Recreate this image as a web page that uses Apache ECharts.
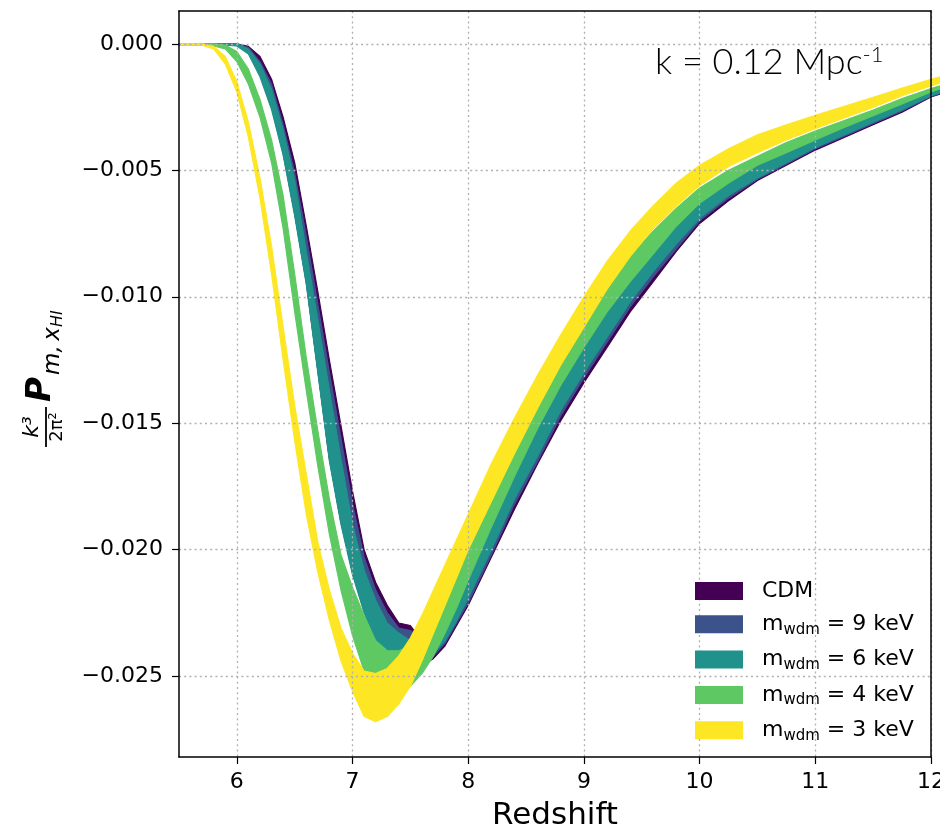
<!DOCTYPE html>
<html><head><meta charset="utf-8">
<script src="https://cdn.jsdelivr.net/npm/echarts@6/dist/echarts.min.js"></script>
<style>html,body{margin:0;padding:0;background:#fff}#c{width:940px;height:830px}</style>
</head><body><div id="c"></div>
<script>
// redshift grid
const Z = [5.5, 5.7, 5.8, 5.9, 6.0, 6.1, 6.2, 6.3, 6.4, 6.5, 6.6, 6.7, 6.8, 6.9, 7.0, 7.1, 7.2, 7.3, 7.4, 7.5, 7.6, 7.7, 7.8, 7.9, 8.0, 8.2, 8.4, 8.6, 8.8, 9.0, 9.2, 9.4, 9.6, 9.8, 10.0, 10.25, 10.5, 10.75, 11.0, 11.25, 11.5, 11.75, 12.0, 12.1];

const CDM_HI = [0, 0, 0, 0, 0, -0.0001, -0.0005, -0.0014, -0.0029, -0.0047, -0.0072, -0.0098, -0.0125, -0.0151, -0.0177, -0.0200, -0.0213, -0.0222, -0.0229, -0.0230, -0.0236, -0.0227, -0.0217, -0.0206, -0.0196, -0.0178, -0.0159, -0.0141, -0.0124, -0.0108, -0.0094, -0.0085, -0.0075, -0.0066, -0.0058, -0.0051, -0.00455, -0.0040, -0.00355, -0.0031, -0.0027, -0.0023, -0.0018, -0.0017];
const CDM_LO = [0, 0, 0, 0, 0, -0.0003, -0.0012, -0.0025, -0.0043, -0.0067, -0.0094, -0.0129, -0.0164, -0.0189, -0.0209, -0.0224, -0.0235, -0.0241, -0.0244, -0.0246, -0.0246, -0.0243, -0.0238, -0.0230, -0.0222, -0.0203, -0.0184, -0.0166, -0.0149, -0.0134, -0.0120, -0.0106, -0.0094, -0.0082, -0.0071, -0.0062, -0.0054, -0.0048, -0.0042, -0.0037, -0.0032, -0.0027, -0.0021, -0.00195];

const KEV9_HI = [0, 0, 0, 0, 0, -0.00015, -0.0007, -0.0016, -0.0032, -0.0051, -0.0076, -0.0103, -0.0130, -0.0156, -0.0182, -0.0203, -0.0216, -0.0225, -0.0231, -0.0232, -0.0236, -0.0227, -0.0217, -0.0206, -0.0196, -0.0178, -0.0159, -0.0141, -0.0124, -0.0108, -0.0094, -0.0085, -0.0075, -0.0066, -0.0058, -0.0051, -0.00455, -0.0040, -0.00355, -0.0031, -0.0027, -0.0023, -0.0018, -0.0017];
const KEV9_LO = [0, 0, 0, 0, 0, -0.0003, -0.0012, -0.0025, -0.0043, -0.0067, -0.0094, -0.0129, -0.0164, -0.0189, -0.0209, -0.0224, -0.0235, -0.0241, -0.0244, -0.0245, -0.0245, -0.0242, -0.0237, -0.0229, -0.0221, -0.0202, -0.0182, -0.0165, -0.0147, -0.0132, -0.0118, -0.0104, -0.0092, -0.0081, -0.0070, -0.0061, -0.00535, -0.00475, -0.00415, -0.00365, -0.00315, -0.00265, -0.00208, -0.00193];

const KEV6_HI = [0, 0, 0, 0, 0, -0.0002, -0.0008, -0.0018, -0.0034, -0.0054, -0.0082, -0.0109, -0.0137, -0.0164, -0.0190, -0.0208, -0.0220, -0.0229, -0.0233, -0.0236, -0.0236, -0.0227, -0.0217, -0.0206, -0.0196, -0.0178, -0.0159, -0.0141, -0.0124, -0.0108, -0.0094, -0.0085, -0.0075, -0.0066, -0.0058, -0.0051, -0.00455, -0.0040, -0.00355, -0.0031, -0.0027, -0.0023, -0.0018, -0.0017];
const KEV6_LO = [-0.00005, -0.00005, -0.00005, -0.00005, -0.00008, -0.0004, -0.0013, -0.0026, -0.0044, -0.0068, -0.0095, -0.0130, -0.0165, -0.0190, -0.0210, -0.0225, -0.0236, -0.0242, -0.0245, -0.0245, -0.0244, -0.0241, -0.0236, -0.0228, -0.0219, -0.0200, -0.0180, -0.0163, -0.0145, -0.0130, -0.0116, -0.0102, -0.0090, -0.0079, -0.0069, -0.0060, -0.0053, -0.0047, -0.0041, -0.0036, -0.0031, -0.0026, -0.00205, -0.0019];

const KEV4_HI = [0, 0, 0, -0.00005, -0.0003, -0.0010, -0.0022, -0.0038, -0.0060, -0.0091, -0.0124, -0.0153, -0.0180, -0.0202, -0.0215, -0.0226, -0.0236, -0.0240, -0.0240, -0.0238, -0.0235, -0.0226, -0.0216, -0.0205, -0.0195, -0.0177, -0.0158, -0.0140, -0.0123, -0.0107, -0.0093, -0.0084, -0.0074, -0.0065, -0.0057, -0.0050, -0.00445, -0.0039, -0.00345, -0.00303, -0.00262, -0.00216, -0.00177, -0.00163];
const KEV4_LO = [-0.00005, -0.00005, -0.00008, -0.0002, -0.0007, -0.0016, -0.0029, -0.0047, -0.0073, -0.0106, -0.0137, -0.0167, -0.0194, -0.0216, -0.0234, -0.0248, -0.0254, -0.0256, -0.0256, -0.0254, -0.0249, -0.0242, -0.0233, -0.0223, -0.0212, -0.0191, -0.0171, -0.0152, -0.0135, -0.0120, -0.0106, -0.0094, -0.0083, -0.0072, -0.0063, -0.0055, -0.0048, -0.0043, -0.0038, -0.0033, -0.00284, -0.00238, -0.0019, -0.00175];

const KEV3_HI = [0, 0, -0.0001, -0.0005, -0.0015, -0.0031, -0.0053, -0.0080, -0.0112, -0.0143, -0.0170, -0.0197, -0.0216, -0.0231, -0.0241, -0.0248, -0.0249, -0.0247, -0.0242, -0.0235, -0.0226, -0.0216, -0.0206, -0.0196, -0.0186, -0.0166, -0.0148, -0.0131, -0.0115, -0.0100, -0.0086, -0.0074, -0.0064, -0.0055, -0.0048, -0.00415, -0.0036, -0.0032, -0.00283, -0.00247, -0.00211, -0.00175, -0.0014, -0.00128];
const KEV3_LO = [-0.00005, -0.00005, -0.0002, -0.0008, -0.0019, -0.0037, -0.0061, -0.0091, -0.0125, -0.0157, -0.0186, -0.0209, -0.0228, -0.0244, -0.0256, -0.0266, -0.0268, -0.0266, -0.0261, -0.0254, -0.0244, -0.0233, -0.0222, -0.0211, -0.0200, -0.0181, -0.0162, -0.0144, -0.0127, -0.0112, -0.0097, -0.0084, -0.0073, -0.0064, -0.0056, -0.00485, -0.0043, -0.0038, -0.00335, -0.00293, -0.00251, -0.00205, -0.00166, -0.00152];

const NAMES = ['CDM', 'm_wdm = 9 keV', 'm_wdm = 6 keV', 'm_wdm = 4 keV', 'm_wdm = 3 keV'];
const COLORS = ['#440154', '#3b528b', '#21918c', '#5ec962', '#fde725'];
const XTICKS = [6, 7, 8, 9, 10, 11, 12];
const YTICKS = [-0.025, -0.02, -0.015, -0.01, -0.005, 0];

const BANDS = [[CDM_LO, CDM_HI], [KEV9_LO, KEV9_HI], [KEV6_LO, KEV6_HI], [KEV4_LO, KEV4_HI], [KEV3_LO, KEV3_HI]];

const FONT = 'DejaVu Sans';

// one filled band (fill_between) per model, drawn through the cartesian scales
const series = BANDS.map(([lo, hi], k) => ({
  type: 'custom', name: NAMES[k], coordinateSystem: 'cartesian2d',
  data: Z.map((z, i) => [z, lo[i], hi[i]]),
  encode: { x: 0, y: [1, 2] },
  itemStyle: { color: COLORS[k] },
  clip: false, silent: true,
  renderItem(params, api) {
    if (params.dataIndex !== 0) return null;
    const pts = [];
    for (let i = 0; i < Z.length; i++) pts.push(api.coord([Z[i], hi[i]]));
    for (let i = Z.length - 1; i >= 0; i--) pts.push(api.coord([Z[i], lo[i]]));
    return {
      type: 'polygon', shape: { points: pts },
      style: { fill: COLORS[k], stroke: COLORS[k], lineWidth: 1.2, lineJoin: 'round' }
    };
  }
}));

const gridLine = { show: true, lineStyle: { color: '#b0b0b0', width: 1.3, type: [2, 3.2] } };
const blackLine = { show: true, onZero: false, lineStyle: { color: '#000', width: 1.5 } };

const option = {
  animation: false,
  backgroundColor: '#fff',
  textStyle: { fontFamily: FONT },
  grid: { left: 179, right: 9, top: 11, bottom: 73, containLabel: false, outerBoundsMode: 'none' },
  xAxis: [{
    type: 'value', min: 5.5, max: 12, splitNumber: 6, position: 'bottom', z: 3,
    axisLine: blackLine,
    axisTick: { show: true, customValues: XTICKS, length: 7, lineStyle: { color: '#000', width: 1.2 } },
    axisLabel: { customValues: XTICKS, fontSize: 22, color: '#000', margin: 14, fontFamily: FONT },
    splitLine: gridLine,
    name: 'Redshift', nameLocation: 'middle', nameGap: 43,
    nameTextStyle: { fontSize: 31, color: '#000', fontFamily: FONT }
  }, {
    type: 'value', min: 5.5, max: 12, position: 'top', z: 3,
    axisLine: blackLine, axisTick: { show: false }, axisLabel: { show: false }, splitLine: { show: false }
  }],
  yAxis: [{
    type: 'value', min: -0.0282, max: 0.0013, splitNumber: 6, position: 'left', z: 3,
    axisLine: blackLine,
    axisTick: { show: true, customValues: YTICKS, length: 7, lineStyle: { color: '#000', width: 1.2 } },
    axisLabel: {
      customValues: YTICKS, fontSize: 22, color: '#000', margin: 16, fontFamily: FONT,
      formatter: v => (Math.abs(v) < 1e-9 ? '0.000' : '\u2212' + Math.abs(v).toFixed(3))
    },
    splitLine: gridLine
  }, {
    type: 'value', min: -0.0282, max: 0.0013, position: 'right', z: 3,
    axisLine: blackLine, axisTick: { show: false }, axisLabel: { show: false }, splitLine: { show: false }
  }],
  legend: {
    data: NAMES, orient: 'vertical', left: 695, top: 580, padding: 0,
    icon: 'rect', itemWidth: 48, itemHeight: 18, itemGap: 11.3,
    itemStyle: { borderWidth: 0 },
    formatter: n => n === 'CDM' ? '{g|}{t|CDM}' : '{g|}{t|m}{s|wdm}{t| = ' + n.match(/\d+/)[0] + ' keV}',
    textStyle: {
      color: '#000', fontFamily: FONT, fontSize: 22,
      rich: {
        g: { width: 14, lineHeight: 26 },
        t: { fontSize: 22, lineHeight: 26, fontFamily: FONT, color: '#000' },
        s: { fontSize: 15, lineHeight: 12, verticalAlign: 'bottom', fontFamily: FONT, color: '#000' }
      }
    }
  },
  graphic: [
    {
      type: 'group', x: 46, y: 447, rotation: Math.PI / 2, z: 10,
      children: [
        { type: 'line', shape: { x1: 0, y1: 0, x2: 40, y2: 0 }, style: { stroke: '#000', lineWidth: 1.8 } },
        { type: 'text', x: 20, y: -3, style: { text: 'k\u00b3', fontSize: 22, fontStyle: 'italic', fontFamily: FONT, fill: '#000', align: 'center', verticalAlign: 'bottom' } },
        { type: 'text', x: 20, y: 2, style: { text: '2\u03c0\u00b2', fontSize: 18, fontFamily: FONT, fill: '#000', align: 'center', verticalAlign: 'top' } },
        { type: 'text', x: 45, y: -5, style: { text: 'P', fontSize: 34, fontStyle: 'italic', fontWeight: 'bold', fontFamily: FONT, fill: '#000', align: 'left', verticalAlign: 'middle' } },
        { type: 'text', x: 72, y: 7.5, style: { text: 'm,\u2009x', fontSize: 23, fontStyle: 'italic', fontFamily: FONT, fill: '#000', align: 'left', verticalAlign: 'middle' } },
        { type: 'text', x: 120, y: 12, style: { text: 'HI', fontSize: 16, fontStyle: 'italic', fontFamily: FONT, fill: '#000', align: 'left', verticalAlign: 'middle' } }
      ]
    },
    {
      type: 'text', x: 655, y: 62, z: 10,
      style: {
        text: '{a|k = 0.12 Mpc}{b|-1}', verticalAlign: 'middle',
        rich: {
          a: { fontSize: 36, fontFamily: 'Lato', fontWeight: 300, fill: '#000', color: '#000' },
          b: { fontSize: 22, fontFamily: 'Lato', fontWeight: 300, fill: '#000', color: '#000', verticalAlign: 'top' }
        }
      }
    }
  ],
  series
};

const chart = echarts.init(document.getElementById('c'), null, { renderer: 'canvas' });
chart.setOption(option);
</script>
</body></html>
